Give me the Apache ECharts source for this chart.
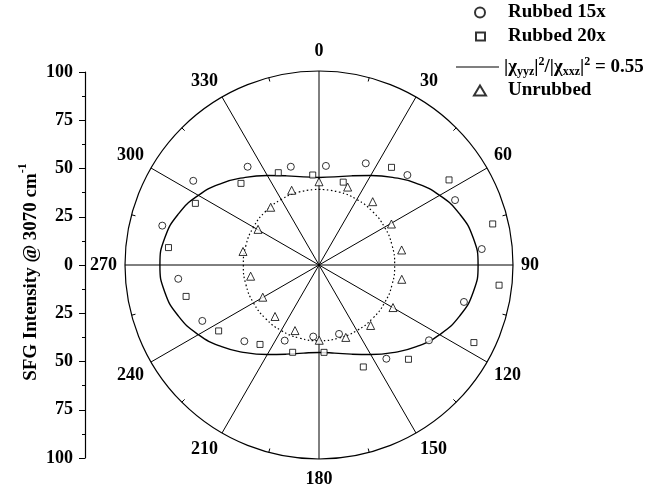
<!DOCTYPE html>
<html>
<head>
<meta charset="utf-8">
<script src="https://cdn.jsdelivr.net/npm/echarts@6/dist/echarts.min.js"></script>
<style>
  html, body { margin: 0; padding: 0; background: #ffffff; }
  #chart { width: 668px; height: 489px; }
</style>
</head>
<body>
<div id="chart"></div>
<script>
// Azimuthal SFG intensity measurements (angle in degrees, intensity in a.u.)
const rubbed15Angles = [4.0, 24.7, 44.5, 64.5, 84.4, 104.3, 124.4, 144.3, 163.8, 184.6, 204.4, 224.4, 244.4, 264.4, 284.1, 303.8, 324.0, 344.0];
const rubbed15Values = [51.2, 57.7, 65.0, 77.7, 84.3, 77.1, 68.7, 59.5, 37.0, 37.0, 42.8, 55.0, 66.7, 72.9, 83.3, 78.0, 62.6, 52.7];

const rubbed20Angles = [356.0, 16.3, 36.6, 56.8, 76.7, 96.4, 116.6, 136.5, 156.5, 176.7, 196.8, 216.6, 236.7, 256.7, 276.6, 296.5, 316.3, 336.2];
const rubbed20Values = [46.5, 44.5, 62.7, 80.1, 92.0, 93.4, 89.3, 67.0, 57.3, 45.1, 47.0, 51.0, 61.9, 70.4, 78.1, 71.2, 58.2, 52.0];

const unrubbedAngles = [0, 20.2, 40.3, 60.5, 79.7, 99.8, 119.9, 139.5, 159.7, 179.8, 200.1, 220.5, 240.2, 260.7, 280.1, 300.3, 320.1, 339.9];
const unrubbedValues = [42.9, 42.8, 42.8, 42.9, 43.3, 43.3, 44.0, 41.0, 39.8, 38.8, 36.0, 34.9, 33.4, 35.7, 39.8, 36.4, 38.8, 41.0];

// Simulated curve for |χyyz|²/|χxxz|² = 0.55
const modelAngles = [0, 10, 20, 30, 40, 50, 60, 70, 80, 90, 100, 110, 120, 130, 140, 150, 160, 170, 180,
                     190, 200, 210, 220, 230, 240, 250, 260, 270, 280, 290, 300, 310, 320, 330, 340, 350, 360];
const modelValues = [45.1, 46.1, 48.9, 53.3, 59.0, 65.5, 71.8, 77.1, 80.7, 82.0, 80.7, 77.1, 71.8, 65.5, 59.0, 53.3, 48.9, 46.1, 45.1,
                     46.1, 48.9, 53.3, 59.0, 65.5, 71.8, 77.1, 80.7, 82.0, 80.7, 77.1, 71.8, 65.5, 59.0, 53.3, 48.9, 46.1, 45.1];

// Isotropic (unrubbed) reference ring
const ringAngles = [0, 15, 30, 45, 60, 75, 90, 105, 120, 135, 150, 165, 180, 195, 210, 225, 240, 255, 270, 285, 300, 315, 330, 345, 360];
const ringValues = [39, 39, 39, 39, 39, 39, 39, 39, 39, 39, 39, 39, 39, 39, 39, 39, 39, 39, 39, 39, 39, 39, 39, 39, 39];

// Axis ranges
const radiusMax = 100;
const intensityTicks = [-100, -75, -50, -25, 0, 25, 50, 75, 100];

const NAME_R15 = 'Rubbed 15x';
const NAME_R20 = 'Rubbed 20x';
const NAME_MODEL = '|χyyz|²/|χxxz|² = 0.55';
const NAME_UNRUB = 'Unrubbed';

const pairs = (angles, values) => angles.map((a, i) => [values[i], a]);

const FONT = "'Liberation Serif', 'DejaVu Serif', serif";
const INK = '#000000';

const chart = echarts.init(document.getElementById('chart'), null, { renderer: 'canvas' });

const markerStyle = { color: '#ffffff', borderColor: INK, borderWidth: 1 };

const legendRich = (padLeft) => ({
  m: { fontFamily: FONT, fontWeight: 'bold', fontSize: 19, color: INK, lineHeight: 22, padding: [0, 0, 0, padLeft] },
  k: { fontFamily: FONT, fontWeight: 'bold', fontSize: 19, color: INK, lineHeight: 22 },
  b: { fontFamily: FONT, fontWeight: 'bold', fontSize: 12, color: INK, lineHeight: 14, verticalAlign: 'bottom' },
  p: { fontFamily: FONT, fontWeight: 'bold', fontSize: 12, color: INK, lineHeight: 14, verticalAlign: 'top' }
});

// One legend block per entry so each symbol keeps its own size
const markerLegend = (name, icon, top, w, h, left, padLeft) => ({
  orient: 'vertical',
  left: left,
  top: top,
  itemWidth: w,
  itemHeight: h,
  selectedMode: false,
  data: [{ name: name, icon: icon }],
  formatter: n => '{m|' + n + '}',
  textStyle: { rich: legendRich(padLeft) }
});

const angleLabel = v => {
  if (v >= 360) return '';
  if (v === 0) return '{t|0}';
  if (v === 180) return '{u|180}';
  return '{a|' + v + '}';
};

const labelText = { fontFamily: FONT, fontWeight: 'bold', fontSize: 18, color: INK };

chart.setOption({
  backgroundColor: '#ffffff',
  animation: false,
  polar: { center: [319, 265], radius: 194 },
  angleAxis: {
    type: 'value',
    min: 0,
    max: 360,
    interval: 30,
    startAngle: 90,
    clockwise: true,
    axisLine: { show: true, lineStyle: { color: INK, width: 1.2 } },
    axisTick: { show: false, inside: true },
    minorTick: { show: true, splitNumber: 2, length: 4, lineStyle: { color: INK, width: 1 } },
    splitLine: { show: true, lineStyle: { color: INK, width: 1 } },
    axisLabel: {
      margin: 8,
      color: INK,
      fontFamily: FONT,
      fontWeight: 'bold',
      fontSize: 18,
      formatter: angleLabel,
      rich: {
        a: labelText,
        t: Object.assign({ padding: [0, 0, 3, 0] }, labelText),
        u: Object.assign({ padding: [3, 0, 0, 0] }, labelText)
      }
    }
  },
  radiusAxis: {
    type: 'value',
    min: 0,
    max: radiusMax,
    axisLine: { show: false },
    axisTick: { show: false },
    axisLabel: { show: false },
    splitLine: { show: false }
  },
  grid: { left: 85, top: 72, height: 386, width: 1 },
  xAxis: { type: 'value', show: false, min: 0, max: 1 },
  yAxis: {
    type: 'value',
    min: intensityTicks[0],
    max: intensityTicks[intensityTicks.length - 1],
    interval: 25,
    name: '{n|SFG Intensity @ 3070 cm}{s|-1}',
    nameLocation: 'middle',
    nameGap: 44,
    nameTextStyle: {
      padding: [0, 14, 0, 0],
      rich: {
        n: { fontFamily: FONT, fontWeight: 'bold', fontSize: 19, color: INK, lineHeight: 24, verticalAlign: 'bottom' },
        s: { fontFamily: FONT, fontWeight: 'bold', fontSize: 12, color: INK, lineHeight: 24, verticalAlign: 'top' }
      }
    },
    axisLine: { show: true, lineStyle: { color: INK, width: 1.2 } },
    axisTick: { show: true, length: 6, lineStyle: { color: INK, width: 1 } },
    minorTick: { show: true, splitNumber: 2, length: 3, lineStyle: { color: INK, width: 1 } },
    splitLine: { show: false },
    axisLabel: {
      margin: 12,
      color: INK,
      fontFamily: FONT,
      fontWeight: 'bold',
      fontSize: 18,
      formatter: v => String(Math.abs(v))
    }
  },
  legend: [
    markerLegend(NAME_R15, 'circle', -2, 10, 10, 469, 18),
    markerLegend(NAME_R20, 'rect', 22, 9, 8, 470, 18),
    {
      orient: 'vertical',
      left: 451,
      top: 51,
      itemWidth: 43,
      itemHeight: 1.2,
      selectedMode: false,
      data: [{ name: NAME_MODEL, icon: 'rect' }],
      formatter: () => '{k||χ}{b|yyz}{k||}{p|2}{k|/|χ}{b|xxz}{k||}{p|2}{k| = 0.55}',
      textStyle: { rich: legendRich(0) }
    },
    markerLegend(NAME_UNRUB, 'triangle', 76, 12, 10, 468, 17)
  ],
  series: [
    {
      name: NAME_MODEL,
      type: 'line',
      coordinateSystem: 'polar',
      smooth: true,
      symbol: 'none',
      lineStyle: { color: INK, width: 1.4 },
      itemStyle: { color: INK },
      data: pairs(modelAngles, modelValues),
      z: 2
    },
    {
      name: 'ring',
      type: 'line',
      coordinateSystem: 'polar',
      smooth: true,
      symbol: 'none',
      lineStyle: { color: INK, width: 1.2, type: [1.5, 2.5] },
      data: pairs(ringAngles, ringValues),
      z: 2
    },
    {
      name: NAME_R15,
      type: 'scatter',
      coordinateSystem: 'polar',
      symbol: 'circle',
      symbolSize: 7,
      itemStyle: markerStyle,
      data: pairs(rubbed15Angles, rubbed15Values),
      z: 3
    },
    {
      name: NAME_R20,
      type: 'scatter',
      coordinateSystem: 'polar',
      symbol: 'rect',
      symbolSize: 6,
      itemStyle: markerStyle,
      data: pairs(rubbed20Angles, rubbed20Values),
      z: 3
    },
    {
      name: NAME_UNRUB,
      type: 'scatter',
      coordinateSystem: 'polar',
      symbol: 'triangle',
      symbolSize: 8,
      itemStyle: markerStyle,
      data: pairs(unrubbedAngles, unrubbedValues),
      z: 3
    }
  ]
});
</script>
</body>
</html>
